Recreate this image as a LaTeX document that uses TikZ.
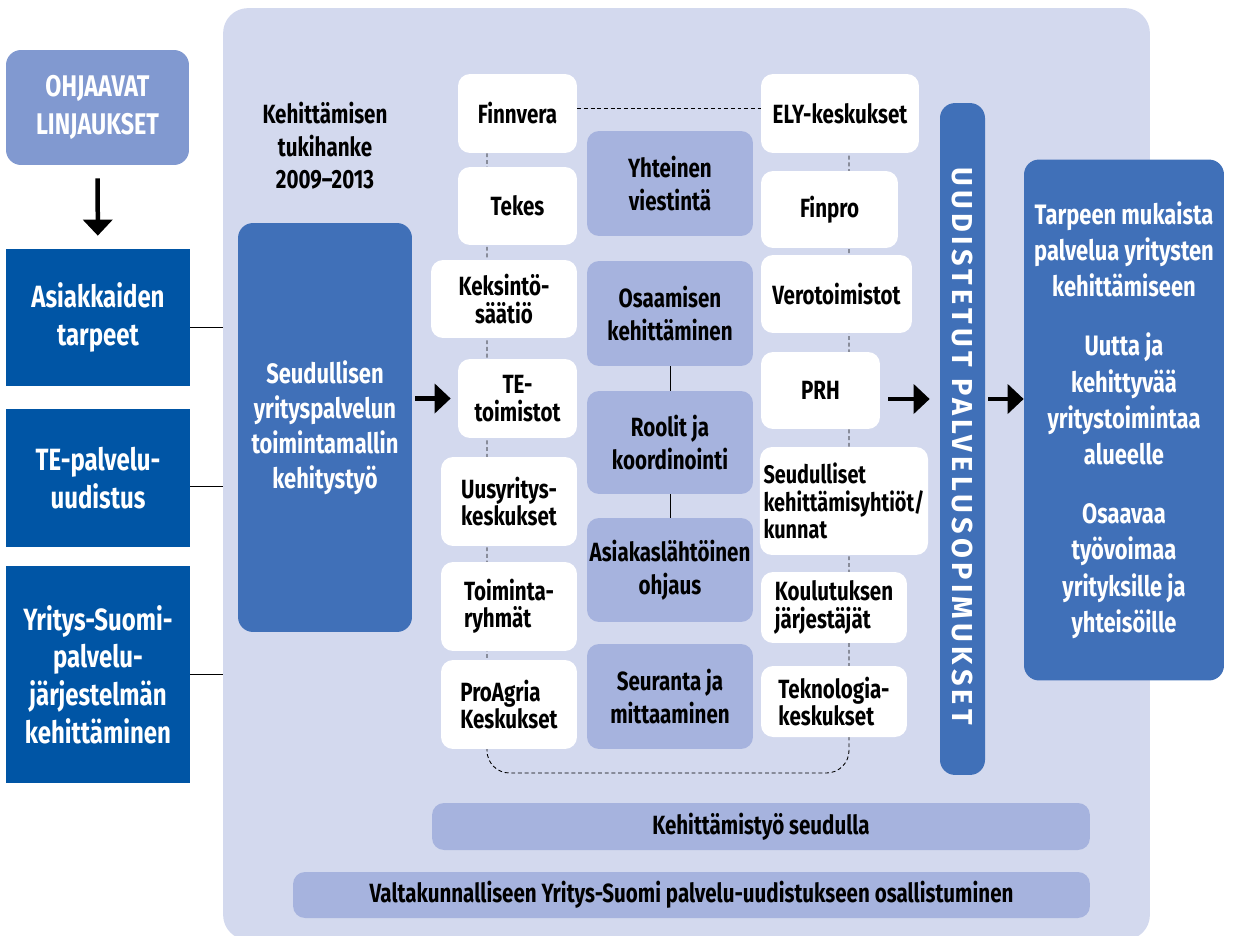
\documentclass[tikz,border=0pt]{standalone}
\usepackage{fontspec}
\setmainfont{Fira Sans}[FakeStretch=0.78]
\newfontfamily\widefont{Fira Sans}[LetterSpace=15]
\usetikzlibrary{arrows.meta,backgrounds}

\definecolor{panelbg}{RGB}{211,217,238}
\definecolor{lightblue}{RGB}{129,153,208}
\definecolor{darkblue}{RGB}{0,85,165}
\definecolor{midblue}{RGB}{64,112,184}
\definecolor{lilac}{RGB}{166,179,222}

\begin{document}
\begin{tikzpicture}[x=0.02cm,y=-0.02cm,
    wbox/.style={fill=white, rounded corners=0.24cm, align=center, inner xsep=2pt,
        font=\bfseries\fontsize{15}{15.5}\selectfont},
    pbox/.style={fill=lilac, rounded corners=0.24cm, align=center, inner xsep=1pt,
        minimum width=3.32cm, font=\bfseries\fontsize{15}{18.5}\selectfont},
    dbox/.style={fill=darkblue, text=white, align=center, minimum width=3.68cm,
        font=\bfseries\fontsize{17.5}{21.5}\selectfont},
    bbox/.style={fill=midblue, text=white, rounded corners=0.3cm, align=center,
        font=\bfseries\fontsize{16}{20.6}\selectfont},
    dotline/.style={line width=0.5pt, dash pattern=on 2.2pt off 1.6pt},
    bigarrow/.style={-{Triangle[width=0.58cm,length=0.32cm]}, line width=0.09cm}]

    \useasboundingbox (0,0) rectangle (1234,936);

    % Left column
    \node[fill=lightblue, text=white, rounded corners=0.3cm, align=center,
        minimum width=3.66cm, minimum height=2.3cm,
        font=\bfseries\fontsize{17}{22}\selectfont] (ohj) at (97.5,107.5) {OHJAAVAT\\LINJAUKSET};
    \node[dbox, minimum height=2.74cm] (ask) at (98,317.5) {Asiakkaiden\\tarpeet};
    \node[dbox, minimum height=2.76cm] (tep) at (98,478) {TE-palvelu-\\uudistus};
    \node[dbox, minimum height=4.34cm] (ysu) at (98,674.5) {Yritys-Suomi-\\palvelu-\\järjestelmän\\kehittäminen};

    % Main panel
    \begin{scope}[on background layer]
        \node[fill=panelbg, rounded corners=0.5cm, minimum width=18.54cm,
            minimum height=18.64cm] (panel) at (686.5,474) {};
    \end{scope}

    \node[align=center, font=\bfseries\fontsize{15}{18.5}\selectfont] (hanke) at (325,146)
        {Kehittämisen\\tukihanke\\2009–2013};
    \node[bbox, minimum width=3.48cm, minimum height=8.18cm,
        font=\bfseries\fontsize{16}{20}\selectfont] (sey) at (325,427.5)
        {Seudullisen\\yrityspalvelun\\toimintamallin\\kehitystyö};

    % Organisations, left
    \node[wbox, minimum width=2.38cm, minimum height=1.58cm] (fin) at (517.5,113.5) {Finnvera};
    \node[wbox, minimum width=2.38cm, minimum height=1.56cm] (tek) at (517.5,206) {Tekes};
    \node[wbox, minimum width=2.92cm, minimum height=1.56cm] (kek) at (504,299) {Keksintö-\\säätiö};
    \node[wbox, minimum width=2.38cm, minimum height=1.58cm] (teto) at (517.5,398.5) {TE-\\toimistot};
    \node[wbox, minimum width=2.72cm, minimum height=1.78cm, align=left] (uus) at (509,501.5) {Uusyritys-\\keskukset};
    \node[wbox, minimum width=2.72cm, minimum height=1.78cm, align=left] (toim) at (509,606.5) {Toiminta-\\ryhmät};
    \node[wbox, minimum width=2.72cm, minimum height=1.78cm, align=left] (pro) at (509,704.5) {ProAgria\\Keskukset};

    % Themes
    \node[pbox, minimum height=2.1cm] (yht) at (670,183.5) {Yhteinen\\viestintä};
    \node[pbox, minimum height=2.1cm] (osa) at (670,313.5) {Osaamisen\\kehittäminen};
    \node[pbox, minimum height=2.06cm] (rool) at (670,442.5) {Roolit ja\\koordinointi};
    \node[pbox, minimum height=2.08cm] (asi) at (670,570) {Asiakaslähtöinen\\ohjaus};
    \node[pbox, minimum height=2.1cm] (seu) at (670,696.5) {Seuranta ja\\mittaaminen};

    % Organisations, right
    \node[wbox, minimum width=3.16cm, minimum height=1.58cm] (ely) at (840,113.5) {ELY-keskukset};
    \node[wbox, minimum width=2.74cm, minimum height=1.54cm] (finp) at (829.5,209.5) {Finpro};
    \node[wbox, minimum width=3.02cm, minimum height=1.56cm] (vero) at (836.5,294) {Verotoimistot};
    \node[wbox, minimum width=2.38cm, minimum height=1.54cm] (prh) at (820.5,390.5) {PRH};
    \node[wbox, minimum width=3.32cm, minimum height=2.16cm, align=left,
        font=\bfseries\fontsize{14.5}{15.5}\selectfont] (seud) at (844,501) {Seudulliset\\kehittämisyhtiöt/\\kunnat};
    \node[wbox, minimum width=2.92cm, minimum height=1.42cm, align=left] (koul) at (834,607.5) {Koulutuksen\\järjestäjät};
    \node[wbox, minimum width=2.92cm, minimum height=1.42cm, align=left] (tekn) at (834,701.5) {Teknologia-\\keskukset};

    % Contracts and results
    \node[fill=midblue, rounded corners=0.3cm, minimum width=0.9cm, minimum height=13.44cm] (bar) at (962.5,439) {};
    \node[rotate=-90, text=white, font=\widefont\bfseries\fontsize{16.4}{17}\selectfont] (bartxt) at (962,446)
        {UUDISTETUT PALVELUSOPIMUKSET};
    \node[bbox, minimum width=4cm, minimum height=10.42cm] (out) at (1124,420)
        {Tarpeen mukaista\\palvelua yritysten\\kehittämiseen\\[0.46cm]
         Uutta ja\\kehittyvää\\yritystoimintaa\\alueelle\\[0.46cm]
         Osaavaa\\työvoimaa\\yrityksille ja\\yhteisöille};

    % Bottom bars
    \node[fill=lilac, rounded corners=0.24cm, minimum width=13.16cm, minimum height=0.94cm,
        font=\bfseries\fontsize{15}{15.5}\selectfont] (kse) at (761,826.5) {Kehittämistyö seudulla};
    \node[fill=lilac, rounded corners=0.24cm, minimum width=15.94cm, minimum height=0.92cm,
        font=\bfseries\fontsize{15}{15.5}\selectfont] (val) at (691.5,895)
        {Valtakunnalliseen Yritys-Suomi palvelu-uudistukseen osallistuminen};

    % Dotted links
    \coordinate (lc) at (487,0);
    \coordinate (rc) at (849,0);
    \coordinate (bot) at (0,773);
    \coordinate (ay) at (0,399);
    \begin{scope}[on background layer]
        \draw[dotline] ([yshift=0.11cm]fin.east) -- ([yshift=0.11cm]ely.west);
        \draw[dotline, rounded corners=0.45cm] (fin.south -| lc) -- (lc |- bot) -- (rc |- bot) -- (ely.south -| rc);
    \end{scope}
    \draw (osa.south) -- (rool.north);
    \draw (rool.south) -- (asi.north);

    % Connectors
    \draw ([yshift=-0.19cm]ask.east) -- ([yshift=-0.19cm]ask.east -| panel.west);
    \draw ([yshift=-0.16cm]tep.east) -- ([yshift=-0.16cm]tep.east -| panel.west);
    \draw (ysu.east) -- (ysu.east -| panel.west);

    % Arrows
    \draw[bigarrow, shorten <=0.26cm, shorten >=0.26cm] (ohj) -- (ask);
    \draw[bigarrow, shorten <=0.06cm, shorten >=0.14cm] (teto.west -| sey.east) -- (teto.west);
    \draw[bigarrow, shorten <=0.16cm, shorten >=0.2cm] (prh.east |- ay) -- (bar.west |- ay);
    \draw[bigarrow, shorten <=0.06cm] (bar.east |- ay) -- (out.west |- ay);
\end{tikzpicture}
\end{document}
